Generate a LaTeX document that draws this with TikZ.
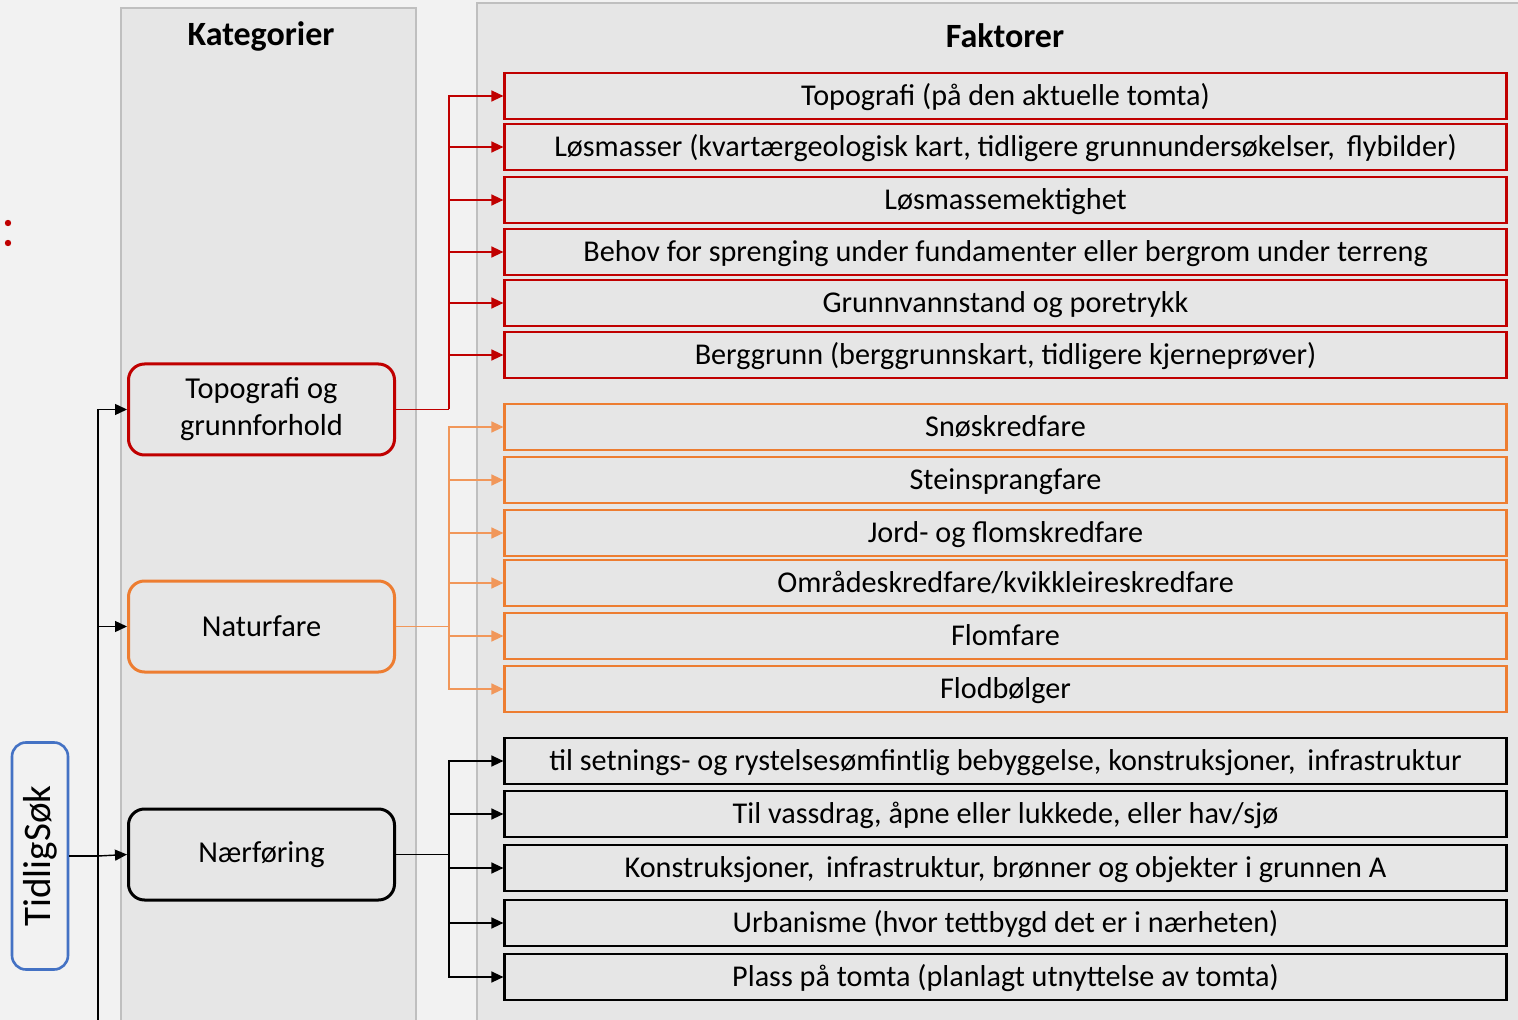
\documentclass[tikz,border=0pt]{standalone}
\usepackage{fontspec}
\setmainfont{Carlito}
\definecolor{myred}{HTML}{C00000}
\definecolor{myorange}{HTML}{ED7D31}
\definecolor{myblue}{HTML}{4472C4}
\definecolor{mybg}{HTML}{F2F2F2}
\definecolor{mypanel}{HTML}{E6E6E6}
\definecolor{myedge}{HTML}{BFBFBF}
\usetikzlibrary{positioning, arrows.meta, calc}
\tikzset{
	panelbox/.style={
			draw=myedge,
			line width=0.6pt
		},
	titlenode/.style={
			font=\fontsize{17pt}{20pt}\selectfont\bfseries
		},
	catnode/.style={
			shape=rectangle,
			rounded corners=8pt,
			line width=1.5pt,
			fill=mypanel,
			minimum width=133pt,
			minimum height=45.5pt,
			align=center,
			inner sep=0pt,
			font=\fontsize{15.2pt}{18.5pt}\selectfont
		},
	factnode/.style={
			shape=rectangle,
			line width=1.1pt,
			fill=mypanel,
			minimum width=501pt,
			minimum height=23pt,
			inner sep=0pt,
			text height=12pt,
			text depth=2.5pt,
			font=\fontsize{15.1pt}{18pt}\selectfont
		},
	redfact/.style={factnode, draw=myred},
	orangefact/.style={factnode, draw=myorange},
	blackfact/.style={factnode, draw=black},
	redline/.style={draw=myred, line width=0.7pt},
	orangeline/.style={draw=myorange!80!white, line width=0.7pt},
	blackline/.style={draw=black, line width=0.7pt},
	tip/.style={-{Triangle[length=6pt, width=5.5pt]}}
}

\begin{document}
\begin{tikzpicture}[x=0.5pt, y=-0.5pt]
	\useasboundingbox (0,0) rectangle (1518,1020);
	\fill[mybg] (0,0) rectangle (1518,1020);

	% panels
	\fill[mypanel] (121,8) rectangle (416,1021);
	\fill[mypanel] (477,3) rectangle (1519,1021);
	\draw[panelbox] (121,1021) -- (121,8) -- (416,8) -- (416,1021);
	\draw[panelbox] (477,1021) -- (477,3) -- (1519,3);
	\node[titlenode] (kat) at (261,36) {Kategorier};
	\node[titlenode] (fak) at (1005,36) {Faktorer};

	% stray dots
	\fill[myred] (8,223) circle (1.6pt);
	\fill[myred] (8,243) circle (1.6pt);

	% start
	\node[shape=rectangle, rounded corners=7pt, draw=myblue, line width=1.3pt, fill=mybg,
		minimum width=113.5pt, minimum height=28pt, inner sep=0pt, rotate=90,
		font=\fontsize{19.5pt}{22pt}\selectfont] (t) at (40,856) {TidligSøk};

	% categories
	\node[catnode, draw=myred] (k1) at (261.5,409.5) {Topografi og\\grunnforhold};
	\node[catnode, draw=myorange] (k2) at (261.5,626.5) {Naturfare};
	\node[catnode, draw=black] (k3) at (261.5,854.5) {Nærføring};

	% factors
	\node[redfact] (r1) at (1005.5,96) {Topografi (på den aktuelle tomta)};
	\node[redfact] (r2) at (1005.5,147) {Løsmasser (kvartærgeologisk kart, tidligere grunnundersøkelser,\, flybilder)};
	\node[redfact] (r3) at (1005.5,200) {Løsmassemektighet};
	\node[redfact] (r4) at (1005.5,252) {Behov for sprenging under fundamenter eller bergrom under terreng};
	\node[redfact] (r5) at (1005.5,303) {Grunnvannstand og poretrykk};
	\node[redfact] (r6) at (1005.5,355) {Berggrunn (berggrunnskart, tidligere kjerneprøver)};

	\node[orangefact] (o1) at (1005.5,427) {Snøskredfare};
	\node[orangefact] (o2) at (1005.5,480) {Steinsprangfare};
	\node[orangefact] (o3) at (1005.5,533) {Jord- og flomskredfare};
	\node[orangefact] (o4) at (1005.5,583) {Områdeskredfare/kvikkleireskredfare};
	\node[orangefact] (o5) at (1005.5,636) {Flomfare};
	\node[orangefact] (o6) at (1005.5,689) {Flodbølger};

	\node[blackfact] (b1) at (1005.5,761) {til setnings- og rystelsesømfintlig bebyggelse, konstruksjoner,\, infrastruktur};
	\node[blackfact] (b2) at (1005.5,814) {Til vassdrag, åpne eller lukkede, eller hav/sjø};
	\node[blackfact] (b3) at (1005.5,868) {Konstruksjoner,\, infrastruktur, brønner og objekter i grunnen A};
	\node[blackfact] (b4) at (1005.5,923) {Urbanisme (hvor tettbygd det er i nærheten)};
	\node[blackfact] (b5) at (1005.5,977) {Plass på tomta (planlagt utnyttelse av tomta)};

	% start -> categories
	\coordinate (sp) at (98,856);
	\coordinate (spend) at (98,1021);
	\draw[blackline] (t.south) -- (sp) -- (spend);
	\draw[blackline, tip] (sp) |- (k1.west);
	\draw[blackline, tip] (sp) |- (k2.west);
	\draw[blackline, tip] (sp) -- (k3.west);

	% categories -> factors
	\coordinate (jr) at (449,409.5);
	\coordinate (jo) at (449,626.5);
	\coordinate (jb) at (449,854.5);
	\draw[redline] (k1.east) -- (jr);
	\draw[redline, tip] (jr) |- (r1.west);
	\draw[redline, tip] (jr) |- (r2.west);
	\draw[redline, tip] (jr) |- (r3.west);
	\draw[redline, tip] (jr) |- (r4.west);
	\draw[redline, tip] (jr) |- (r5.west);
	\draw[redline, tip] (jr) |- (r6.west);

	\draw[orangeline] (k2.east) -- (jo);
	\draw[orangeline, tip] (jo) |- (o1.west);
	\draw[orangeline, tip] (jo) |- (o2.west);
	\draw[orangeline, tip] (jo) |- (o3.west);
	\draw[orangeline, tip] (jo) |- (o4.west);
	\draw[orangeline, tip] (jo) |- (o5.west);
	\draw[orangeline, tip] (jo) |- (o6.west);

	\draw[blackline] (k3.east) -- (jb);
	\draw[blackline, tip] (jb) |- (b1.west);
	\draw[blackline, tip] (jb) |- (b2.west);
	\draw[blackline, tip] (jb) |- (b3.west);
	\draw[blackline, tip] (jb) |- (b4.west);
	\draw[blackline, tip] (jb) |- (b5.west);
\end{tikzpicture}
\end{document}
